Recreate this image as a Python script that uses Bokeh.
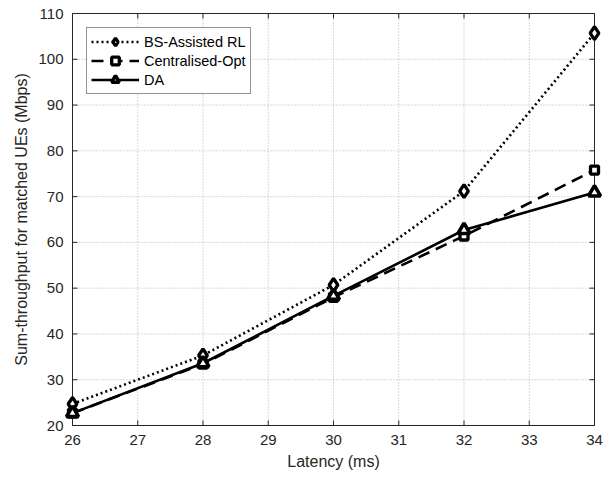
import math
from bokeh.plotting import figure
from bokeh.models import Range1d, Legend, LegendItem, FixedTicker
from bokeh.embed import file_html
from bokeh.resources import INLINE

# Data
latency = [26, 28, 30, 32, 34]
bs_assisted_rl = [24.7, 35.3, 50.7, 71.2, 105.7]
centralised_opt = [22.7, 33.4, 48.0, 61.4, 75.8]
da = [22.7, 33.6, 48.3, 62.7, 70.9]
x_ticks = [26, 27, 28, 29, 30, 31, 32, 33, 34]
y_ticks = [20, 30, 40, 50, 60, 70, 80, 90, 100, 110]
series_names = ["BS-Assisted RL", "Centralised-Opt", "DA"]

FONT = "Liberation Sans"
AX_COLOR = "#262626"
GRID_COLOR = "#b4b4b4"

# Layout: the frame is a few pixels larger than the axes box, so that markers
# sitting on the box edges are not clipped.
W, H = 607, 478
BL, BR, BT, BB = 64, 5, 5, 45
PAD = 8  # px between frame edge and axes box
x0, x1 = x_ticks[0], x_ticks[-1]
y0, y1 = y_ticks[0], y_ticks[-1]
fw, fh = W - BL - BR, H - BT - BB
sx = (fw - 2 * PAD) / (x1 - x0)
sy = (fh - 2 * PAD) / (y1 - y0)
px, py = PAD / sx, PAD / sy

p = figure(width=W, height=H, output_backend="svg", toolbar_location=None,
           x_range=Range1d(x0 - px, x1 + px), y_range=Range1d(y0 - py, y1 + py),
           min_border_left=BL, min_border_right=BR, min_border_top=BT, min_border_bottom=BB)
p.outline_line_color = None
p.background_fill_color = "white"
p.border_fill_color = "white"
p.xgrid.visible = False
p.ygrid.visible = False

# Axes: labels only; lines/ticks drawn at the axes box below
for ax, ticks in ((p.xaxis[0], x_ticks), (p.yaxis[0], y_ticks)):
    ax.ticker = FixedTicker(ticks=ticks)
    ax.major_tick_in = 0
    ax.major_tick_out = 0
    ax.minor_tick_line_color = None
    ax.major_tick_line_color = None
    ax.axis_line_color = None
    ax.major_label_text_font = FONT
    ax.major_label_text_font_size = "15px"
    ax.major_label_text_color = AX_COLOR
    ax.axis_label_text_font = FONT
    ax.axis_label_text_font_size = "16px"
    ax.axis_label_text_font_style = "normal"
    ax.axis_label_text_color = AX_COLOR

p.xaxis.axis_label = "Latency (ms)"
p.yaxis.axis_label = "Sum-throughput for matched UEs (Mbps)"
p.xaxis.major_label_standoff = 1
p.xaxis.axis_label_standoff = 5
p.yaxis.major_label_standoff = 1
p.yaxis.axis_label_standoff = 5

# Dotted grid inside the axes box
inner_x = x_ticks[1:-1]
inner_y = y_ticks[1:-1]
p.segment(x0=inner_x, y0=[y0] * len(inner_x), x1=inner_x, y1=[y1] * len(inner_x),
          line_color=GRID_COLOR, line_width=1, line_dash="1 2")
p.segment(x0=[x0] * len(inner_y), y0=inner_y, x1=[x1] * len(inner_y), y1=inner_y,
          line_color=GRID_COLOR, line_width=1, line_dash="1 2")

# Axes box
p.quad(left=[x0], right=[x1], bottom=[y0], top=[y1], fill_color=None,
       line_color=AX_COLOR, line_width=1)

# Inward ticks on all four sides
TL = 5
p.ray(x=x_ticks, y=[y0] * len(x_ticks), length=TL, length_units="screen",
      angle=math.pi / 2, line_color=AX_COLOR, line_width=1)
p.ray(x=x_ticks, y=[y1] * len(x_ticks), length=TL, length_units="screen",
      angle=-math.pi / 2, line_color=AX_COLOR, line_width=1)
p.ray(x=[x0] * len(y_ticks), y=y_ticks, length=TL, length_units="screen",
      angle=0, line_color=AX_COLOR, line_width=1)
p.ray(x=[x1] * len(y_ticks), y=y_ticks, length=TL, length_units="screen",
      angle=math.pi, line_color=AX_COLOR, line_width=1)

# Series
LW = 2.6
MLW = 3.3
l1 = p.line(latency, bs_assisted_rl, line_color="black", line_width=LW, line_dash="2 3")
m1 = p.scatter(latency, bs_assisted_rl, marker="diamond", size=13, line_color="black",
               fill_color="white", line_width=MLW)
l2 = p.line(latency, centralised_opt, line_color="black", line_width=LW, line_dash="12 7")
m2 = p.scatter(latency, centralised_opt, marker="square", size=8, line_color="black",
               fill_color="white", line_width=MLW)
l3 = p.line(latency, da, line_color="black", line_width=LW)
m3 = p.scatter(latency, da, marker="triangle", size=12, line_color="black",
               fill_color="white", line_width=3.6)

legend = Legend(items=[
    LegendItem(label=series_names[0], renderers=[l1, m1]),
    LegendItem(label=series_names[1], renderers=[l2, m2]),
    LegendItem(label=series_names[2], renderers=[l3, m3]),
], location="top_left")
legend.margin = 22
legend.padding = 4
legend.spacing = 0
legend.glyph_width = 48
legend.glyph_height = 19
legend.label_height = 19
legend.label_standoff = 5
legend.label_text_font = FONT
legend.label_text_font_size = "14.5px"
legend.label_text_color = "black"
legend.border_line_color = AX_COLOR
legend.border_line_width = 1
legend.background_fill_color = "white"
legend.background_fill_alpha = 1
p.add_layout(legend, "center")

open("out.html", "w").write(file_html(p, INLINE))
